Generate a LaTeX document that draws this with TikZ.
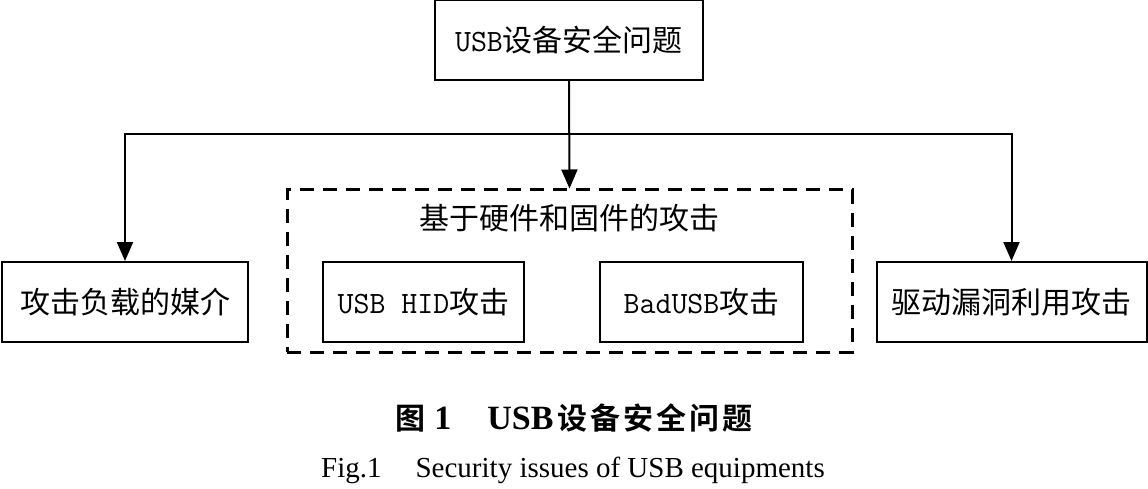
\documentclass[tikz,border=0pt]{standalone}
\usepackage{fontspec}
\setmainfont{Liberation Serif}
\newfontfamily\cjk{Noto Sans CJK SC}[BoldFont={Noto Sans CJK SC Bold}]
\newcommand{\lat}{\ttfamily\fontsize{31}{36}\selectfont}
\usetikzlibrary{arrows.meta,positioning}
\begin{document}
\begin{tikzpicture}[x=1pt,y=1pt,
  box/.style={draw,line width=2pt,inner sep=0pt,minimum height=80pt,font=\fontsize{30}{36}\selectfont},
  dbox/.style={draw,line width=3pt,dash pattern=on 14pt off 9pt,inner sep=0pt},
  arr/.style={line width=2pt,-{Triangle[width=16pt,length=19pt]}},
  ln/.style={line width=2pt}]
\useasboundingbox (0,0) rectangle (1148,488);
\node[box,minimum width=268pt] (top) at (569,448) {{\lat USB}{\cjk 设备安全问题}};
\node[box,minimum width=246pt] (left) at (125,186) {\cjk 攻击负载的媒介};
\node[box,minimum width=270pt] (right) at (1011.5,186) {\cjk 驱动漏洞利用攻击};
\node[dbox,minimum width=565pt,minimum height=162pt] (grp) at (569.5,217) {};
\node[font=\fontsize{30}{36}\selectfont] (gt) at (569.5,270) {\cjk 基于硬件和固件的攻击};
\node[box,minimum width=201pt] (hid) at (423.5,186) {{\lat USB HID}{\cjk 攻击}};
\node[box,minimum width=203pt] (bad) at (701.5,186) {{\lat BadUSB}{\cjk 攻击}};
\coordinate (j) at (569,354);
\draw[arr] (top.south) -- (grp.north);
\draw[arr] (j) -| (left.north);
\draw[arr] (j) -| (right.north);
\node[font=\fontsize{34}{40}\selectfont\bfseries] (cap1) at (574,70) {{\cjk\fontsize{30}{36}\selectfont 图}\hspace{9pt}1\hspace{36pt}USB\hspace{4pt}{\cjk\fontsize{30}{36}\selectfont\addfontfeatures{LetterSpace=10} 设备安全问题}};
\node[font=\fontsize{29}{34}\selectfont] (cap2) at (573,18) {Fig.1\hspace{34pt}Security issues of USB equipments};
\end{tikzpicture}
\end{document}
